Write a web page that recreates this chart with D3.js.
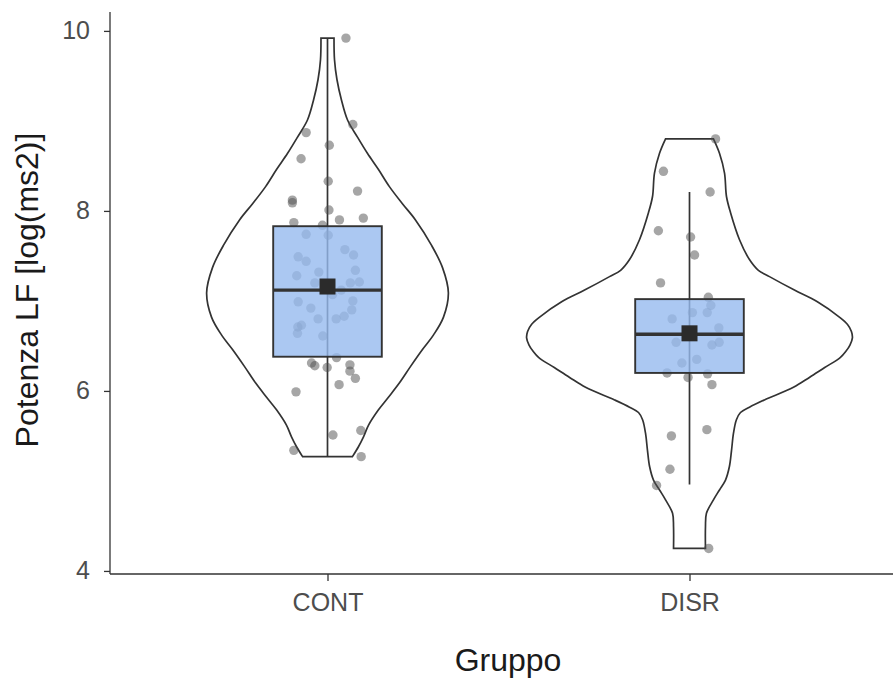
<!DOCTYPE html>
<html>
<head>
<meta charset="utf-8">
<script src="https://cdn.jsdelivr.net/npm/d3@7"></script>
<style>
  body { margin: 0; background: #fff; }
  svg { display: block; font-family: "Liberation Sans", Arial, sans-serif; }
</style>
</head>
<body>
<svg id="chart" width="893" height="683"></svg>
<script>
// groups on the x axis
const categories = ["CONT", "DISR"];
const yTicks = [4, 6, 8, 10];

// jittered observations (value + horizontal jitter in category units)
const contValues = [9.92, 8.87, 8.96, 8.73, 8.58, 8.33, 8.22, 8.12, 8.09, 8.01, 7.90, 7.92, 7.87, 7.84,
  7.74, 7.73, 7.57, 7.51, 7.49, 7.44, 7.32, 7.34, 7.28, 7.20, 7.20, 7.21, 7.12, 7.07, 6.99, 6.92,
  7.00, 6.90, 6.83, 6.80, 6.80, 6.73, 6.71, 6.64, 6.61, 6.37, 6.31, 6.28, 6.26, 6.29, 6.22, 6.14,
  6.07, 5.99, 5.51, 5.56, 5.34, 5.27];
const contJitter = [0.051, -0.059, 0.070, 0.005, -0.073, 0.002, 0.083, -0.097, -0.097, 0.004, 0.033, 0.099, -0.093, -0.014,
  -0.059, 0.002, 0.048, 0.072, -0.081, -0.059, -0.024, 0.077, -0.085, -0.035, 0.063, 0.088, 0.038, 0.014, -0.081, -0.046,
  0.070, 0.067, 0.046, 0.024, -0.026, -0.072, -0.082, -0.083, -0.013, 0.025, -0.044, -0.035, -0.001, 0.062, 0.062, 0.077,
  0.032, -0.087, 0.015, 0.092, -0.093, 0.093];

const disrValues = [8.80, 8.44, 8.21, 7.78, 7.71, 7.51, 7.20, 7.04, 6.95, 6.87, 6.87, 6.80, 6.70, 6.54,
  6.54, 6.51, 6.35, 6.31, 6.20, 6.15, 6.19, 6.07, 5.50, 5.57, 5.13, 4.95, 4.25];
const disrJitter = [0.072, -0.072, 0.057, -0.086, 0.003, 0.014, -0.080, 0.052, 0.059, 0.049, 0.008, -0.048, 0.081, -0.037,
  0.082, 0.062, 0.020, -0.021, -0.062, -0.004, 0.050, 0.062, -0.050, 0.048, -0.054, -0.091, 0.053];

// box plot summaries, one entry per category
const boxQ1 = [6.38, 6.20];
const boxMedian = [7.12, 6.63];
const boxQ3 = [7.83, 7.02];
const whiskerLow = [5.27, 4.96];
const whiskerHigh = [9.92, 8.21];
const groupMean = [7.16, 6.64];

// violin outlines: value and density (relative to the widest violin)
const contViolinValue = [5.27, 5.38, 5.49, 5.62, 5.79, 5.93, 6.09, 6.27, 6.46, 6.62, 6.82, 7.09, 7.37,
  7.62, 7.90, 8.08, 8.27, 8.46, 8.64, 8.82, 9.01, 9.23, 9.46, 9.68, 9.92];
const contViolinDensity = [0.153, 0.190, 0.221, 0.252, 0.313, 0.374, 0.442, 0.509, 0.583, 0.650, 0.712, 0.742, 0.706,
  0.638, 0.540, 0.460, 0.380, 0.313, 0.245, 0.184, 0.123, 0.086, 0.058, 0.043, 0.040];
const disrViolinValue = [4.25, 4.49, 4.64, 4.79, 4.90, 5.01, 5.16, 5.34, 5.53, 5.68, 5.76, 5.82, 5.90, 6.04, 6.15, 6.26,
  6.37, 6.44, 6.51, 6.59, 6.66, 6.74, 6.82, 6.99, 7.12, 7.27, 7.34, 7.46, 7.68, 7.98, 8.16, 8.42, 8.64, 8.80];
const disrViolinDensity = [0.098, 0.098, 0.104, 0.147, 0.184, 0.221, 0.245, 0.258, 0.270, 0.288, 0.313, 0.368, 0.460, 0.638, 0.736, 0.830,
  0.925, 0.960, 0.985, 1.000, 0.994, 0.969, 0.920, 0.785, 0.644, 0.491, 0.423, 0.368, 0.307, 0.252, 0.227, 0.215, 0.184, 0.147];

const svg = d3.select("#chart");
const panelLeft = 110, panelTop = 12, panelBottom = 574;
const ink = "#333333";

const y = d3.scaleLinear().domain([3.966, 10.21]).range([panelBottom, panelTop]);
const x = d3.scalePoint().domain(categories).range([327.5, 689.5]);
const unit = x.step(); // pixels per category unit

const groups = [
  {name: "CONT", values: contValues, jitter: contJitter, vv: contViolinValue, vd: contViolinDensity},
  {name: "DISR", values: disrValues, jitter: disrJitter, vv: disrViolinValue, vd: disrViolinDensity}
];

// violins
const curve = d3.line().x(d => d[0]).y(d => d[1]).curve(d3.curveCatmullRom);
groups.forEach(g => {
  let cx = x(g.name);
  let right = g.vv.map((v, i) => [cx + g.vd[i] * 0.45 * unit, y(v)]);
  let leftSide = g.vv.map((v, i) => [cx - g.vd[i] * 0.45 * unit, y(v)]).reverse();
  let path = curve(right) + "L" + curve(leftSide).substring(1) + "Z";
  svg.append("path")
    .attr("d", path)
    .attr("fill", "white")
    .attr("stroke", ink)
    .attr("stroke-width", 1.7);
});

// whiskers
svg.selectAll(".whisker")
  .data(categories)
  .join("line")
  .attr("class", "whisker")
  .attr("x1", d => x(d)).attr("x2", d => x(d))
  .attr("y1", (d, i) => y(whiskerLow[i]))
  .attr("y2", (d, i) => y(whiskerHigh[i]))
  .attr("stroke", ink)
  .attr("stroke-width", 1.7);

// jittered points
groups.forEach(g => {
  svg.append("g").selectAll("circle")
    .data(g.values)
    .join("circle")
    .attr("cx", (d, i) => x(g.name) + g.jitter[i] * unit)
    .attr("cy", d => y(d))
    .attr("r", 4.7)
    .attr("fill", "#4d4d4d")
    .attr("fill-opacity", 0.5);
});

// boxes
const boxW = 0.3 * unit;
svg.selectAll(".box")
  .data(categories)
  .join("rect")
  .attr("class", "box")
  .attr("x", d => x(d) - boxW / 2)
  .attr("width", boxW)
  .attr("y", (d, i) => y(boxQ3[i]))
  .attr("height", (d, i) => y(boxQ1[i]) - y(boxQ3[i]))
  .attr("fill", "#96baef")
  .attr("fill-opacity", 0.8)
  .attr("stroke", ink)
  .attr("stroke-width", 1.9);

svg.selectAll(".median")
  .data(categories)
  .join("line")
  .attr("class", "median")
  .attr("x1", d => x(d) - boxW / 2).attr("x2", d => x(d) + boxW / 2)
  .attr("y1", (d, i) => y(boxMedian[i])).attr("y2", (d, i) => y(boxMedian[i]))
  .attr("stroke", ink)
  .attr("stroke-width", 3.4);

// mean markers
svg.selectAll(".mean")
  .data(categories)
  .join("rect")
  .attr("class", "mean")
  .attr("x", d => x(d) - 8)
  .attr("y", (d, i) => y(groupMean[i]) - 8)
  .attr("width", 16).attr("height", 16)
  .attr("fill", "#2b2b2b");

// axes
const yAxis = svg.append("g")
  .attr("transform", `translate(${panelLeft},0)`)
  .call(d3.axisLeft(y).tickValues(yTicks).tickFormat(d3.format("d")).tickSize(6).tickPadding(14));
const xAxis = svg.append("g")
  .attr("transform", `translate(0,${panelBottom})`)
  .call(d3.axisBottom(x).tickSize(7).tickPadding(12));

[yAxis, xAxis].forEach(a => {
  a.select(".domain").remove();
  a.selectAll(".tick line").attr("stroke", ink).attr("stroke-width", 1.3);
  a.selectAll(".tick text")
    .attr("fill", "#4d4d4d")
    .style("font-size", "25px")
    .style("font-family", "Liberation Sans, Arial, sans-serif");
});

svg.append("line").attr("x1", panelLeft).attr("x2", panelLeft).attr("y1", panelTop).attr("y2", panelBottom)
  .attr("stroke", ink).attr("stroke-width", 1.3);
svg.append("line").attr("x1", panelLeft).attr("x2", 893).attr("y1", panelBottom).attr("y2", panelBottom)
  .attr("stroke", ink).attr("stroke-width", 1.3);

// titles
svg.append("text")
  .attr("x", 508).attr("y", 671)
  .attr("text-anchor", "middle")
  .attr("fill", "#1a1a1a")
  .style("font-size", "32px")
  .text("Gruppo");

svg.append("text")
  .attr("transform", `translate(38,${(panelTop + panelBottom) / 2 - 3}) rotate(-90)`)
  .attr("text-anchor", "middle")
  .attr("fill", "#1a1a1a")
  .style("font-size", "32px")
  .text("Potenza LF [log(ms2)]");
</script>
</body>
</html>
